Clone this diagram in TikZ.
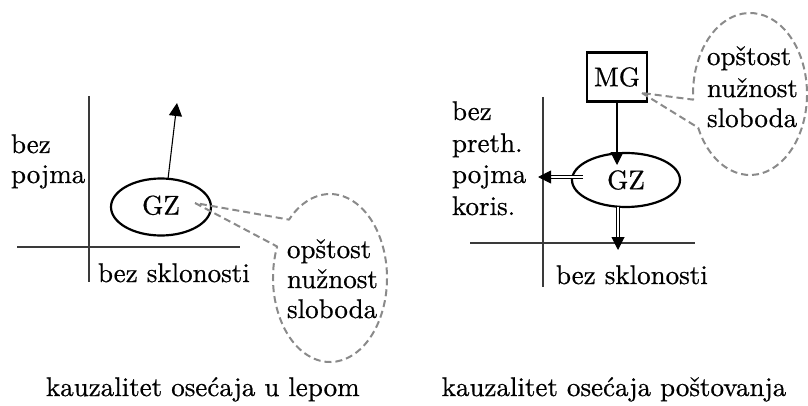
\documentclass[tikz,border=0pt]{standalone}
\usepackage{fontspec}
\setmainfont{lmroman10-regular.otf}[FakeBold=0.6]
\usetikzlibrary{arrows.meta,shapes.geometric,calc}
\definecolor{axisgray}{HTML}{3A3A3A}
\definecolor{dashgray}{HTML}{8A8A8A}
\begin{document}
\begin{tikzpicture}[x=1pt,y=1pt,
  every node/.style={font=\fontsize{27}{31}\selectfont, inner sep=0pt, outer sep=0pt},
  lbl/.style={anchor=base west},
  axis/.style={line width=1.1pt, draw=axisgray},
  gz/.style={ellipse, draw, line width=2.2pt},
  mgbox/.style={rectangle, draw, line width=2.4pt, minimum width=60pt, minimum height=49pt},
  arr/.style={line width=1.1pt, -{Triangle[length=13pt,width=13pt]}},
  darr/.style={double, double distance=2.4pt, line width=1pt, -{Triangle[length=13pt,width=13pt]}},
  bubble/.style={draw=dashgray, line width=2pt, dash pattern=on 7pt off 4pt, line join=round},
]
\path[use as bounding box] (0,0) rectangle (808,405);

% ---------------- left panel ----------------
\draw[axis] (89,309) -- (89,123);
\draw[axis] (17,158) -- (240,158);
\node[gz, minimum width=100pt, minimum height=57pt, text depth=4pt] (gz1) at (161,198) {GZ};
\coordinate (up1) at (177,302);
\draw[arr] (gz1.76) -- (up1);

\node[lbl] (bez1) at (11,252) {bez};
\node[lbl] (pojma1) at (11,222) {pojma};
\node[lbl] (skl1) at (98,123) {bez sklonosti};

\coordinate (tip1) at (195,202);
\coordinate (c1) at (330,127);
\draw[bubble] (tip1) -- ([shift={(158:57 and 84)}]c1)
  arc[start angle=158, end angle=496, x radius=57, y radius=84] -- cycle;
\node[lbl] (op1) at (287,147) {opštost};
\node[lbl] (nu1) at (287,117) {nužnost};
\node[lbl] (sl1) at (287,87) {sloboda};

\node[lbl] (cap1) at (46,9) {kauzalitet osećaja u lepom};

% ---------------- right panel ----------------
\draw[axis] (543,308) -- (543,118);
\draw[axis] (470,162) -- (695,162);
\node[mgbox] (mg) at (617,328) {MG};
\node[gz, minimum width=108pt, minimum height=54pt] (gz2) at (626,225) {GZ};
\coordinate (t2) at (617,240);
\draw[arr] (mg.south) -- (t2);
\coordinate (l2s) at ($(gz2.center)+(-43,3)$);
\coordinate (l2e) at (538,228);
\draw[darr] (l2s) -- (l2e);
\coordinate (d2s) at ($(gz2.south)+(-8,0)$);
\coordinate (d2e) at (618,155);
\draw[darr] (d2s) -- (d2e);

\node[lbl] (bez2) at (452,285) {bez};
\node[lbl] (preth2) at (452,253) {preth.};
\node[lbl] (pojma2) at (452,222) {pojma};
\node[lbl] (koris2) at (452,190) {koris.};
\node[lbl] (skl2) at (556,121) {bez sklonosti};

\coordinate (tip2) at (642,312);
\coordinate (c2) at (750,311);
\draw[bubble] (tip2) -- ([shift={(204.6:57 and 81)}]c2)
  arc[start angle=204.6, end angle=544, x radius=57, y radius=81] -- cycle;
\node[lbl] (op2) at (707,340) {opštost};
\node[lbl] (nu2) at (707,308) {nužnost};
\node[lbl] (sl2) at (707,278) {sloboda};

\node[anchor=base] (cap2) at (614,9) {kauzalitet osećaja poštovanja};
\end{tikzpicture}
\end{document}
